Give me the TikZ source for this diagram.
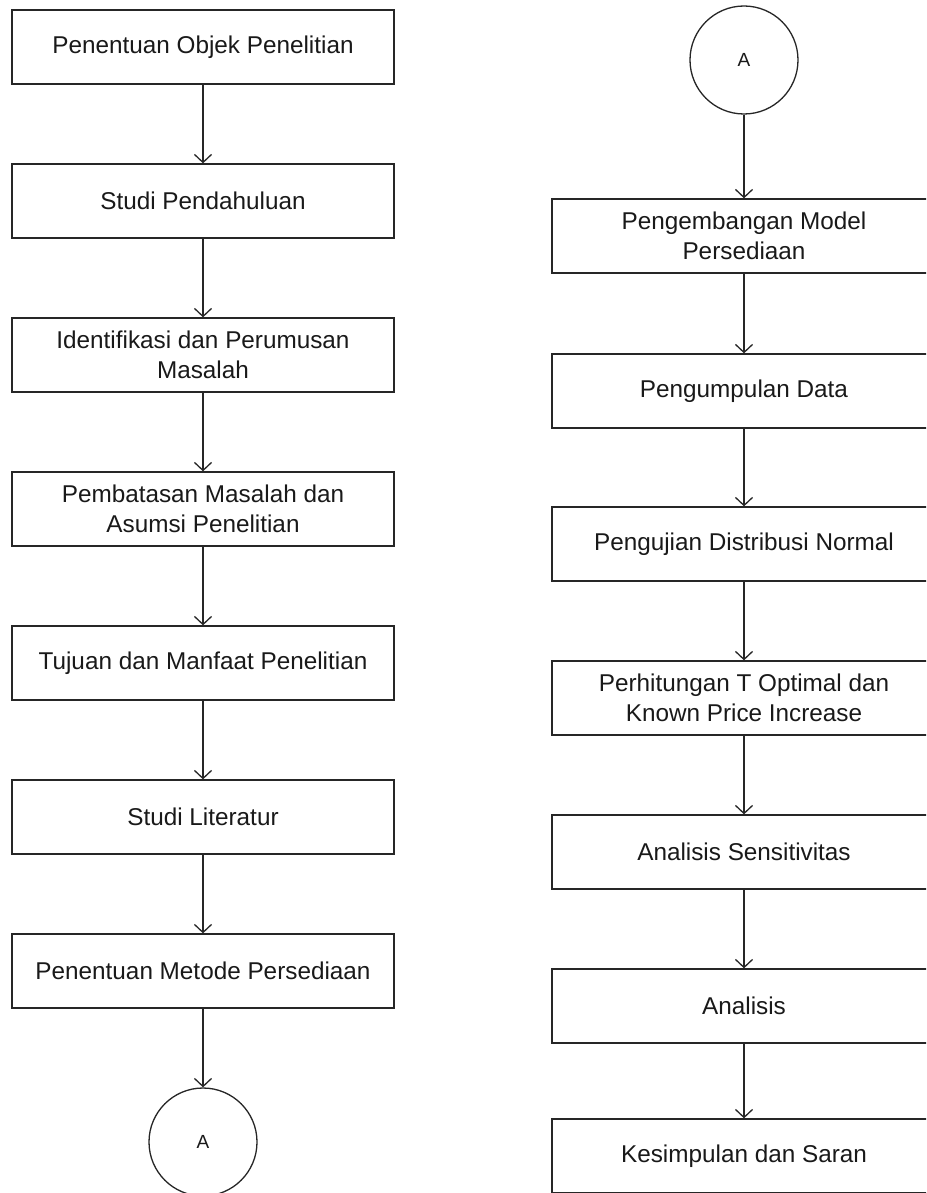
\documentclass[tikz,border=0pt]{standalone}
\usepackage{fontspec}
\setmainfont{Liberation Sans}
\usepackage{tikz}
\usetikzlibrary{arrows.meta}

\begin{document}
\begin{tikzpicture}[x=0.5pt, y=-0.5pt,
  box/.style={draw=black!85, line width=0.65pt, minimum width=191pt, minimum height=37pt,
    inner sep=0pt, align=center, text=black!90, font=\fontsize{12.15}{15}\selectfont},
  conn/.style={circle, draw=black!85, line width=0.65pt, minimum size=54pt, inner sep=0pt,
    text=black!90, font=\fontsize{9.5}{11}\selectfont},
  flow/.style={draw=black!85, line width=0.65pt, -{Straight Barb[length=4pt,width=8.5pt]}}]
\clip (0,0) rectangle (926,1193);

% left column: from the research object down to connector A
\foreach \name/\y/\txt in {l1/47/{Penentuan Objek Penelitian},
    l2/201/{Studi Pendahuluan},
    l3/355/{Identifikasi dan Perumusan\\Masalah},
    l4/509/{Pembatasan Masalah dan\\Asumsi Penelitian},
    l5/663/{Tujuan dan Manfaat Penelitian},
    l6/817/{Studi Literatur},
    l7/971/{Penentuan Metode Persediaan}} {
  \node[box] (\name) at (203,\y) {\txt};
}
\node[conn] (la) at (203,1142) {A};

% right column: continues from connector A
\node[conn] (ra) at (744,60) {A};
\foreach \name/\y/\txt in {r1/236/{Pengembangan Model\\Persediaan},
    r2/391/{Pengumpulan Data},
    r3/544/{Pengujian Distribusi Normal},
    r4/698/{Perhitungan T Optimal dan\\Known Price Increase},
    r5/852/{Analisis Sensitivitas},
    r6/1006/{Analisis},
    r7/1156/{Kesimpulan dan Saran}} {
  \node[box, minimum width=192pt] (\name) at (744,\y) {\txt};
}

% flow arrows
\foreach \a/\b in {l1/l2, l2/l3, l3/l4, l4/l5, l5/l6, l6/l7, l7/la,
    ra/r1, r1/r2, r2/r3, r3/r4, r4/r5, r5/r6, r6/r7} {
  \draw[flow] (\a) -- (\b);
}
\end{tikzpicture}
\end{document}
